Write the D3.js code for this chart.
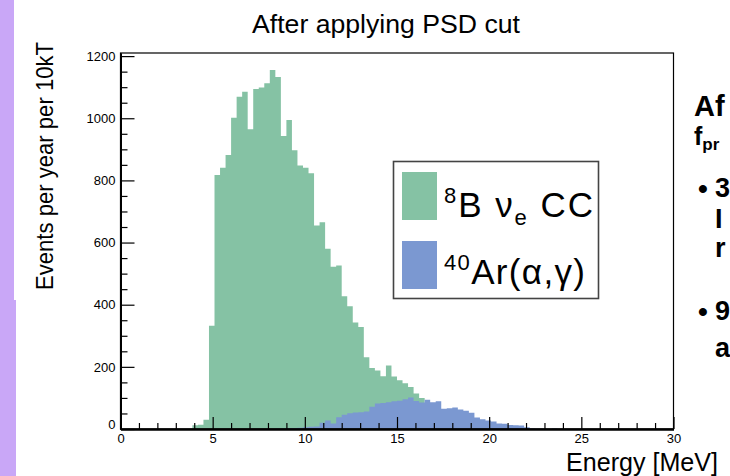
<!DOCTYPE html>
<html>
<head>
<meta charset="utf-8">
<script src="https://cdn.jsdelivr.net/npm/d3@7"></script>
<style>
  body { margin: 0; background: #fff; }
  svg { display: block; font-family: "Liberation Sans", Arial, Helvetica, sans-serif; }
  .tick text { font-size: 13px; fill: #000; }
</style>
</head>
<body>
<svg id="chart" width="730" height="476"></svg>
<script>
// 8B nu_e CC spectrum after PSD cut, 0.3 MeV bins (low edges)
var b8Low = [3.9, 4.2, 4.5, 4.8, 5.1, 5.4, 5.7, 6.0, 6.3, 6.6, 6.9, 7.2, 7.5, 7.8, 8.1, 8.4, 8.7,
             9.0, 9.3, 9.6, 9.9, 10.2, 10.5, 10.8, 11.1, 11.4, 11.7, 12.0, 12.3, 12.6, 12.9, 13.2,
             13.5, 13.8, 14.1, 14.4, 14.7, 15.0, 15.3, 15.6, 15.9, 16.2, 16.5, 16.8, 17.1, 17.4,
             17.7, 18.0, 18.3, 18.6, 18.9, 19.2, 19.5, 19.8, 20.1, 20.4, 20.7, 21.0];
var b8Counts = [12, 14, 30, 332, 817, 841, 882, 1002, 1069, 1085, 965, 1094, 1099, 1113, 1155, 1133, 943,
                994, 897, 848, 841, 823, 655, 665, 580, 522, 526, 427, 395, 343, 328, 231,
                196, 188, 170, 204, 169, 157, 147, 135, 114, 100, 80, 70, 60, 50,
                40, 32, 25, 20, 15, 10, 8, 6, 4, 3, 2, 1];

// 40Ar(alpha,gamma) background
var arLow = [8.4, 8.7, 9.0, 9.3, 9.6, 9.9, 10.2, 10.5, 10.8, 11.1, 11.4, 11.7, 12.0, 12.3, 12.6, 12.9,
             13.2, 13.5, 13.8, 14.1, 14.4, 14.7, 15.0, 15.3, 15.6, 15.9, 16.2, 16.5, 16.8, 17.1,
             17.4, 17.7, 18.0, 18.3, 18.6, 18.9, 19.2, 19.5, 19.8, 20.1, 20.4, 20.7, 21.0, 21.3,
             21.6, 21.9, 22.2, 22.5, 22.8, 23.1, 23.4, 23.7];
var arCounts = [2, 2, 3, 3, 4, 6, 7, 8, 20, 27, 18, 38, 46, 51, 53, 54,
                56, 72, 82, 84, 86, 89, 91, 96, 101, 90, 85, 94, 86, 89,
                65, 67, 69, 63, 59, 52, 37, 31, 27, 24, 18, 17, 13, 12,
                11, 6, 2, 1, 1, 0, 2, 0];

var binWidth = 0.3;

var xMajor = [0, 5, 10, 15, 20, 25, 30];
var xMinor = [1, 2, 3, 4, 6, 7, 8, 9, 11, 12, 13, 14, 16, 17, 18, 19, 21, 22, 23, 24, 26, 27, 28, 29];
var yMajor = [0, 200, 400, 600, 800, 1000, 1200];
var yMinor = [50, 100, 150, 250, 300, 350, 450, 500, 550, 650, 700, 750, 850, 900, 950, 1050, 1100, 1150];

var green = "#85c2a4",
    blue = "#7b98d1";

var svg = d3.select("#chart");

// purple slide strip on the left
svg.append("rect").attr("x", 0).attr("y", 0).attr("width", 14).attr("height", 476).attr("fill", "#c9a7f7");
svg.append("rect").attr("x", 0).attr("y", 300).attr("width", 16).attr("height", 176).attr("fill", "#c9a7f7");

var frame = {left: 120.5, right: 673.5, top: 53, bottom: 429};

var x = d3.scaleLinear().domain([0, 30]).range([frame.left, frame.right]);
var y = d3.scaleLinear().domain([0, 1210]).range([frame.bottom, frame.top]);

function steps(low, counts) {
  var pts = low.map(function(d, i) { return [d, counts[i]]; });
  pts.push([low[low.length - 1] + binWidth, counts[counts.length - 1]]);
  return pts;
}

var area = d3.area()
    .curve(d3.curveStepAfter)
    .x(function(d) { return x(d[0]); })
    .y0(y(0))
    .y1(function(d) { return y(d[1]); });

svg.append("path").datum(steps(b8Low, b8Counts)).attr("d", area).attr("fill", green);
svg.append("path").datum(steps(arLow, arCounts)).attr("d", area).attr("fill", blue);

// frame
svg.append("rect")
    .attr("x", frame.left).attr("y", frame.top)
    .attr("width", frame.right - frame.left).attr("height", frame.bottom - frame.top)
    .attr("fill", "none").attr("stroke", "#000").attr("stroke-width", 1.2);

// axes, ticks pointing inside
var fmt = d3.format("d");
var xAxis = svg.append("g")
    .attr("transform", "translate(0," + frame.bottom + ")")
    .call(d3.axisBottom(x).tickValues(xMajor).tickFormat(fmt).tickSize(-12).tickSizeOuter(0).tickPadding(5));
svg.append("g")
    .attr("transform", "translate(0," + frame.bottom + ")")
    .call(d3.axisBottom(x).tickValues(xMinor).tickSize(-6).tickSizeOuter(0).tickFormat(""));

var yAxis = svg.append("g")
    .attr("transform", "translate(" + frame.left + ",0)")
    .call(d3.axisLeft(y).tickValues(yMajor).tickFormat(fmt).tickSize(-14).tickSizeOuter(0).tickPadding(5));
svg.append("g")
    .attr("transform", "translate(" + frame.left + ",0)")
    .call(d3.axisLeft(y).tickValues(yMinor).tickSize(-7).tickSizeOuter(0).tickFormat(""));

svg.selectAll(".domain").attr("stroke", "#000").attr("stroke-width", 2);
svg.selectAll(".tick line").attr("stroke", "#000").attr("stroke-width", 1.2);
yAxis.selectAll(".tick text").filter(function(d) { return d === 0; }).attr("dy", "-0.05em");

// titles
svg.append("text").attr("x", 386).attr("y", 33).attr("text-anchor", "middle")
    .attr("font-size", 26).attr("textLength", 268).attr("lengthAdjust", "spacingAndGlyphs")
    .text("After applying PSD cut");
svg.append("text").attr("transform", "translate(53,166) rotate(-90)").attr("text-anchor", "middle")
    .attr("font-size", 24).attr("textLength", 248).attr("lengthAdjust", "spacingAndGlyphs")
    .text("Events per year per 10kT");
svg.append("text").attr("x", 718).attr("y", 471).attr("text-anchor", "end")
    .attr("font-size", 26).attr("textLength", 152).attr("lengthAdjust", "spacingAndGlyphs")
    .text("Energy [MeV]");

// legend
var leg = svg.append("g");
leg.append("rect").attr("x", 393.5).attr("y", 161.5).attr("width", 205).attr("height", 137)
    .attr("fill", "#fff").attr("stroke", "#444").attr("stroke-width", 1.6);
leg.append("rect").attr("x", 402).attr("y", 172).attr("width", 35).attr("height", 48).attr("fill", green);
leg.append("rect").attr("x", 402).attr("y", 241).attr("width", 35).attr("height", 48).attr("fill", blue);

var t1 = leg.append("text").attr("x", 444).attr("y", 217).attr("font-size", 35);
t1.append("tspan").attr("font-size", 22).attr("dy", -14).text("8");
t1.append("tspan").attr("dy", 14).text("B ν");
t1.append("tspan").attr("font-size", 22).attr("dy", 8).text("e");
t1.append("tspan").attr("dy", -8).text(" CC");
t1.attr("textLength", 149).attr("lengthAdjust", "spacing");

var t2 = leg.append("text").attr("x", 444).attr("y", 284).attr("font-size", 35);
t2.append("tspan").attr("font-size", 22).attr("dy", -14).text("40");
t2.append("tspan").attr("dy", 14).text("Ar(α,γ)");
t2.attr("textLength", 141).attr("lengthAdjust", "spacing");

// slide text cut off at the right edge
var side = svg.append("g").attr("font-family", "'Liberation Sans', Arial, sans-serif")
    .attr("font-weight", "bold");
side.append("text").attr("x", 694).attr("y", 116).attr("font-size", 29).text("Af");
var fp = side.append("text").attr("x", 694).attr("y", 145).attr("font-size", 25);
fp.append("tspan").text("f");
fp.append("tspan").attr("font-size", 17).attr("dy", 5).text("pr");
side.append("text").attr("x", 698).attr("y", 198).attr("font-size", 28).text("•");
side.append("text").attr("x", 715).attr("y", 197).attr("font-size", 27).text("3");
side.append("text").attr("x", 715).attr("y", 228).attr("font-size", 27).text("I");
side.append("text").attr("x", 715).attr("y", 257).attr("font-size", 27).text("r");
side.append("text").attr("x", 698).attr("y", 321).attr("font-size", 28).text("•");
side.append("text").attr("x", 715).attr("y", 320).attr("font-size", 27).text("9");
side.append("text").attr("x", 715).attr("y", 357).attr("font-size", 27).text("a");
</script>
</body>
</html>
